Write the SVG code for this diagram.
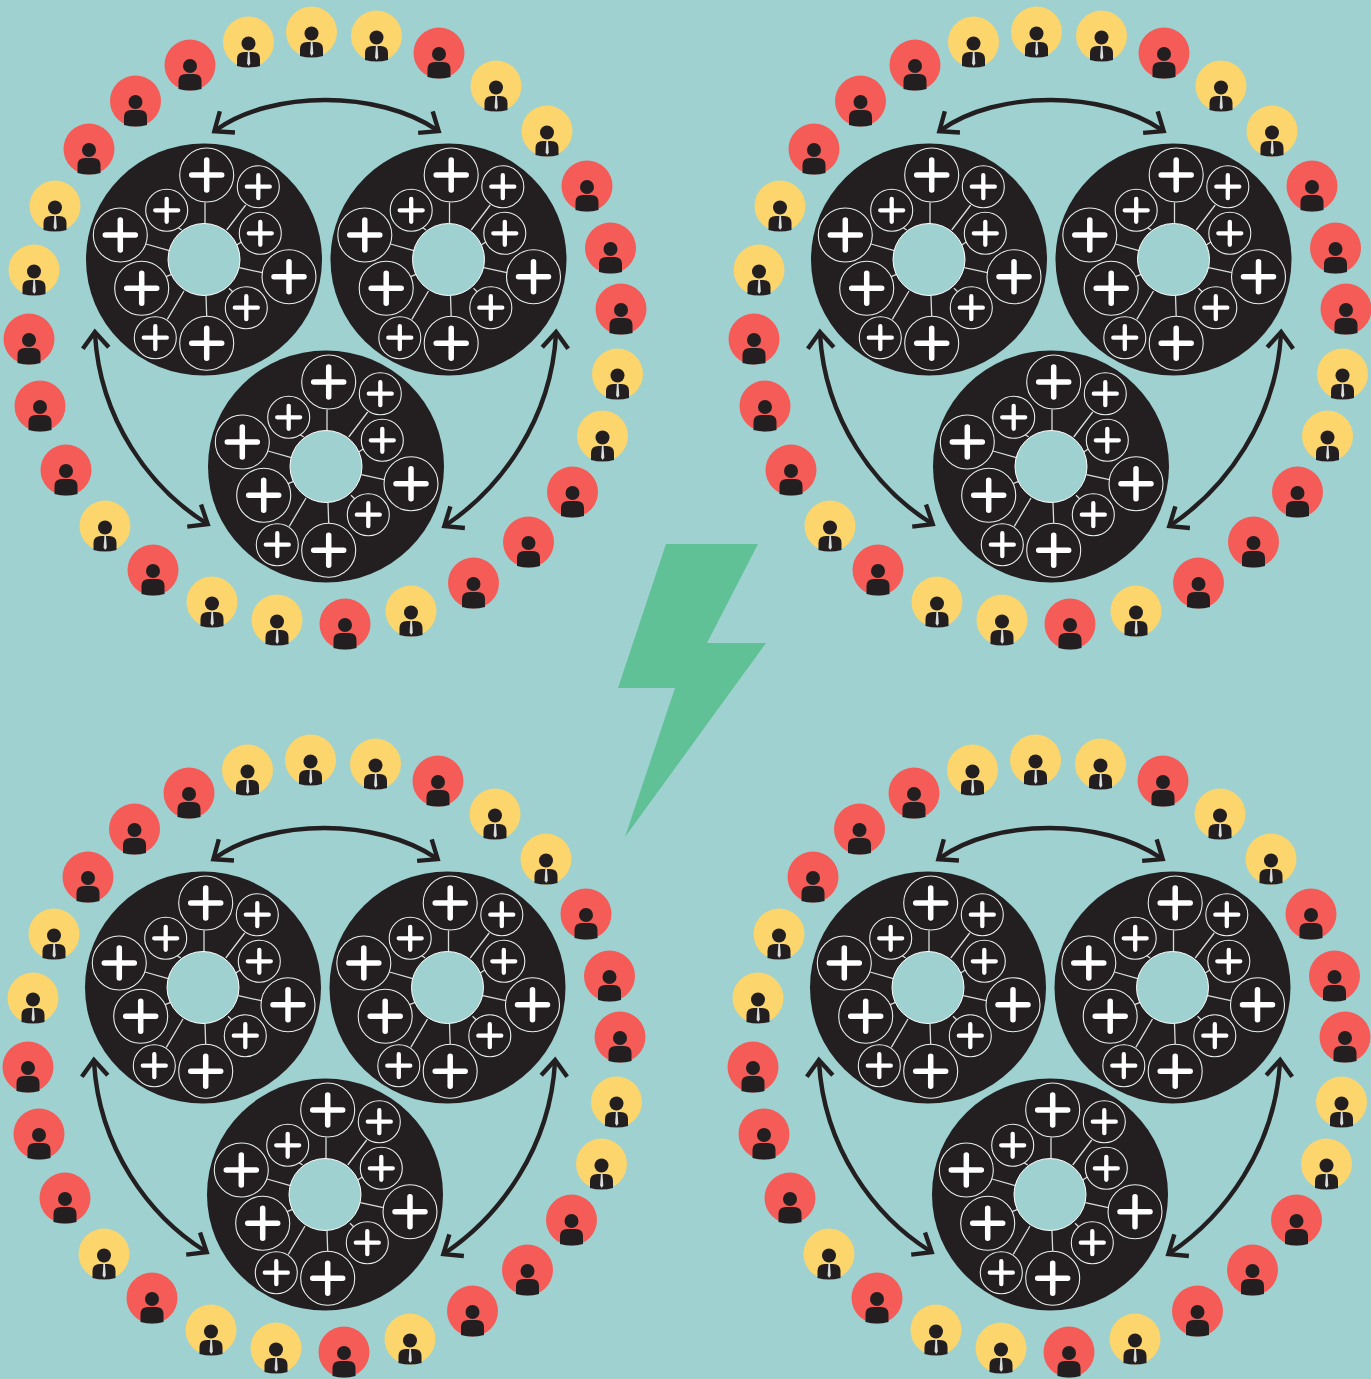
<svg xmlns="http://www.w3.org/2000/svg" xmlns:xlink="http://www.w3.org/1999/xlink" width="1371" height="1379" viewBox="0 0 1371 1379">
<style>
.disc{fill:#231f20}
.hole{fill:#9fd1d0;stroke:#fff;stroke-width:1}
.spoke{stroke:#d8dcdb;stroke-width:1.3;fill:none}
.ring{fill:#231f20;stroke:#e9eeed;stroke-width:1.1}
.plusL{stroke:#fff;stroke-width:5.5;stroke-linecap:round;fill:none}
.plusS{stroke:#fff;stroke-width:4.3;stroke-linecap:round;fill:none}
.arrow{fill:none;stroke:#231f20;stroke-width:4.400;marker-start:url(#head);marker-end:url(#head)}
.red{fill:#f55b57}.yel{fill:#fcd56c}.ink{fill:#231f20}.tie{fill:#d9dddc}
</style>
<defs>
<marker id="head" markerUnits="userSpaceOnUse" markerWidth="40" markerHeight="40" viewBox="-30 -20 40 40" refX="-2" refY="0" orient="auto-start-reverse">
<path d="M-16,-13 L0,0 L-16,13" fill="none" stroke="#231f20" stroke-width="4.400"/>
</marker>
<g id="big"><circle class="ring" r="27"/><path class="plusL" d="M-15,0H15M0,-15V15"/></g>
<g id="small"><circle class="ring" r="21"/><path class="plusS" d="M-11.500,0H11.500M0,-11.500V11.500"/></g>
<g id="rp"><circle class="red" r="25.500"/><circle class="ink" cy="1" r="7"/><path class="ink" d="M-11.500,24 V16 Q-11.500,9 -4,9 H4 Q11.500,9 11.500,16 V24 Q0,27 -11.500,24Z"/></g>
<g id="yp"><circle class="yel" r="25.500"/><circle class="ink" cy="1.500" r="7"/><path class="ink" d="M-11.500,24 V17 Q-11.500,10 -4,10 H4 Q11.500,10 11.500,17 V24 Q0,27 -11.500,24Z"/><path class="tie" d="M-.6,10 H1 L1.800,21.500 L.2,24 L-1.400,21.500Z"/></g>
<g id="cluster">
<ellipse class="disc" rx="118" ry="116"/>
<path class="spoke" d="M1,-57V-36M41.700,-54.500L22.700,-29.500M32.700,-14.500L37.700,-17.800M58.300,13.200L35.300,8.200M25,28.800L28.700,32.200M2,36.200L2.700,56.500M-20,31.500L-36.700,59.800M-38,17.200L-32.300,14.800M-58,-15.500L-34.700,-8.800M-27.300,-32.800L-22.300,-29.500"/>
<circle class="hole" r="36"/>
<use href="#big" x="2.700" y="-84.500"/><use href="#big" x="-83.700" y="-24.500"/><use href="#big" x="-62.300" y="28.800"/><use href="#big" x="2.700" y="83.800"/><use href="#big" x="85" y="17.200"/>
<use href="#small" x="54.300" y="-72.800"/><use href="#small" x="-37.300" y="-49.200"/><use href="#small" x="56.300" y="-26.200"/><use href="#small" x="42.300" y="48.200"/><use href="#small" x="-48.700" y="78.200"/>
</g>
<g id="panel">
<g id="outer">
<use href="#yp" x="248.500" y="42"/><use href="#yp" x="311.500" y="32"/><use href="#yp" x="376.500" y="36"/><use href="#rp" x="439" y="53"/><use href="#yp" x="496" y="86"/><use href="#yp" x="547" y="131"/><use href="#rp" x="587" y="186"/><use href="#rp" x="610.500" y="248"/><use href="#rp" x="621" y="309"/><use href="#yp" x="617.500" y="374"/><use href="#yp" x="602.500" y="436"/><use href="#rp" x="572.500" y="492"/><use href="#rp" x="528.500" y="542"/><use href="#rp" x="473.500" y="583"/><use href="#yp" x="411" y="611"/><use href="#rp" x="345" y="624"/><use href="#yp" x="277" y="620"/><use href="#yp" x="212" y="602"/><use href="#rp" x="153" y="570"/><use href="#yp" x="105" y="526"/><use href="#rp" x="66" y="470"/><use href="#rp" x="40" y="406"/><use href="#rp" x="29" y="339"/><use href="#yp" x="34" y="270"/><use href="#yp" x="55" y="206"/><use href="#rp" x="89" y="149"/><use href="#rp" x="135.500" y="101"/><use href="#rp" x="190" y="65"/>
</g>
<use href="#cluster" x="204" y="259.500"/><use href="#cluster" x="448.500" y="259.500"/><use href="#cluster" x="326" y="466.500"/>
<g id="connectors">
<path class="arrow" d="M216,130 C272,90 378,90 437,130"/>
<path class="arrow" d="M95,334 C100,420 150,488 206,523"/>
<path class="arrow" d="M556,334 C551,420 501,488 446,525"/>
</g>
</g>
</defs>
<rect id="background" width="1371" height="1379" fill="#9fd1d0"/>
<g id="panel-top-left"><use href="#panel"/></g>
<g id="panel-top-right"><use href="#panel" x="725"/></g>
<g id="panel-bottom-left"><use href="#panel" x="-1" y="728"/></g>
<g id="panel-bottom-right"><use href="#panel" x="724" y="728"/></g>
<polygon id="bolt" points="666,544 758,544 707,643 766,643 625,837 675,688 618,688" fill="#5fc195"/>
</svg>
